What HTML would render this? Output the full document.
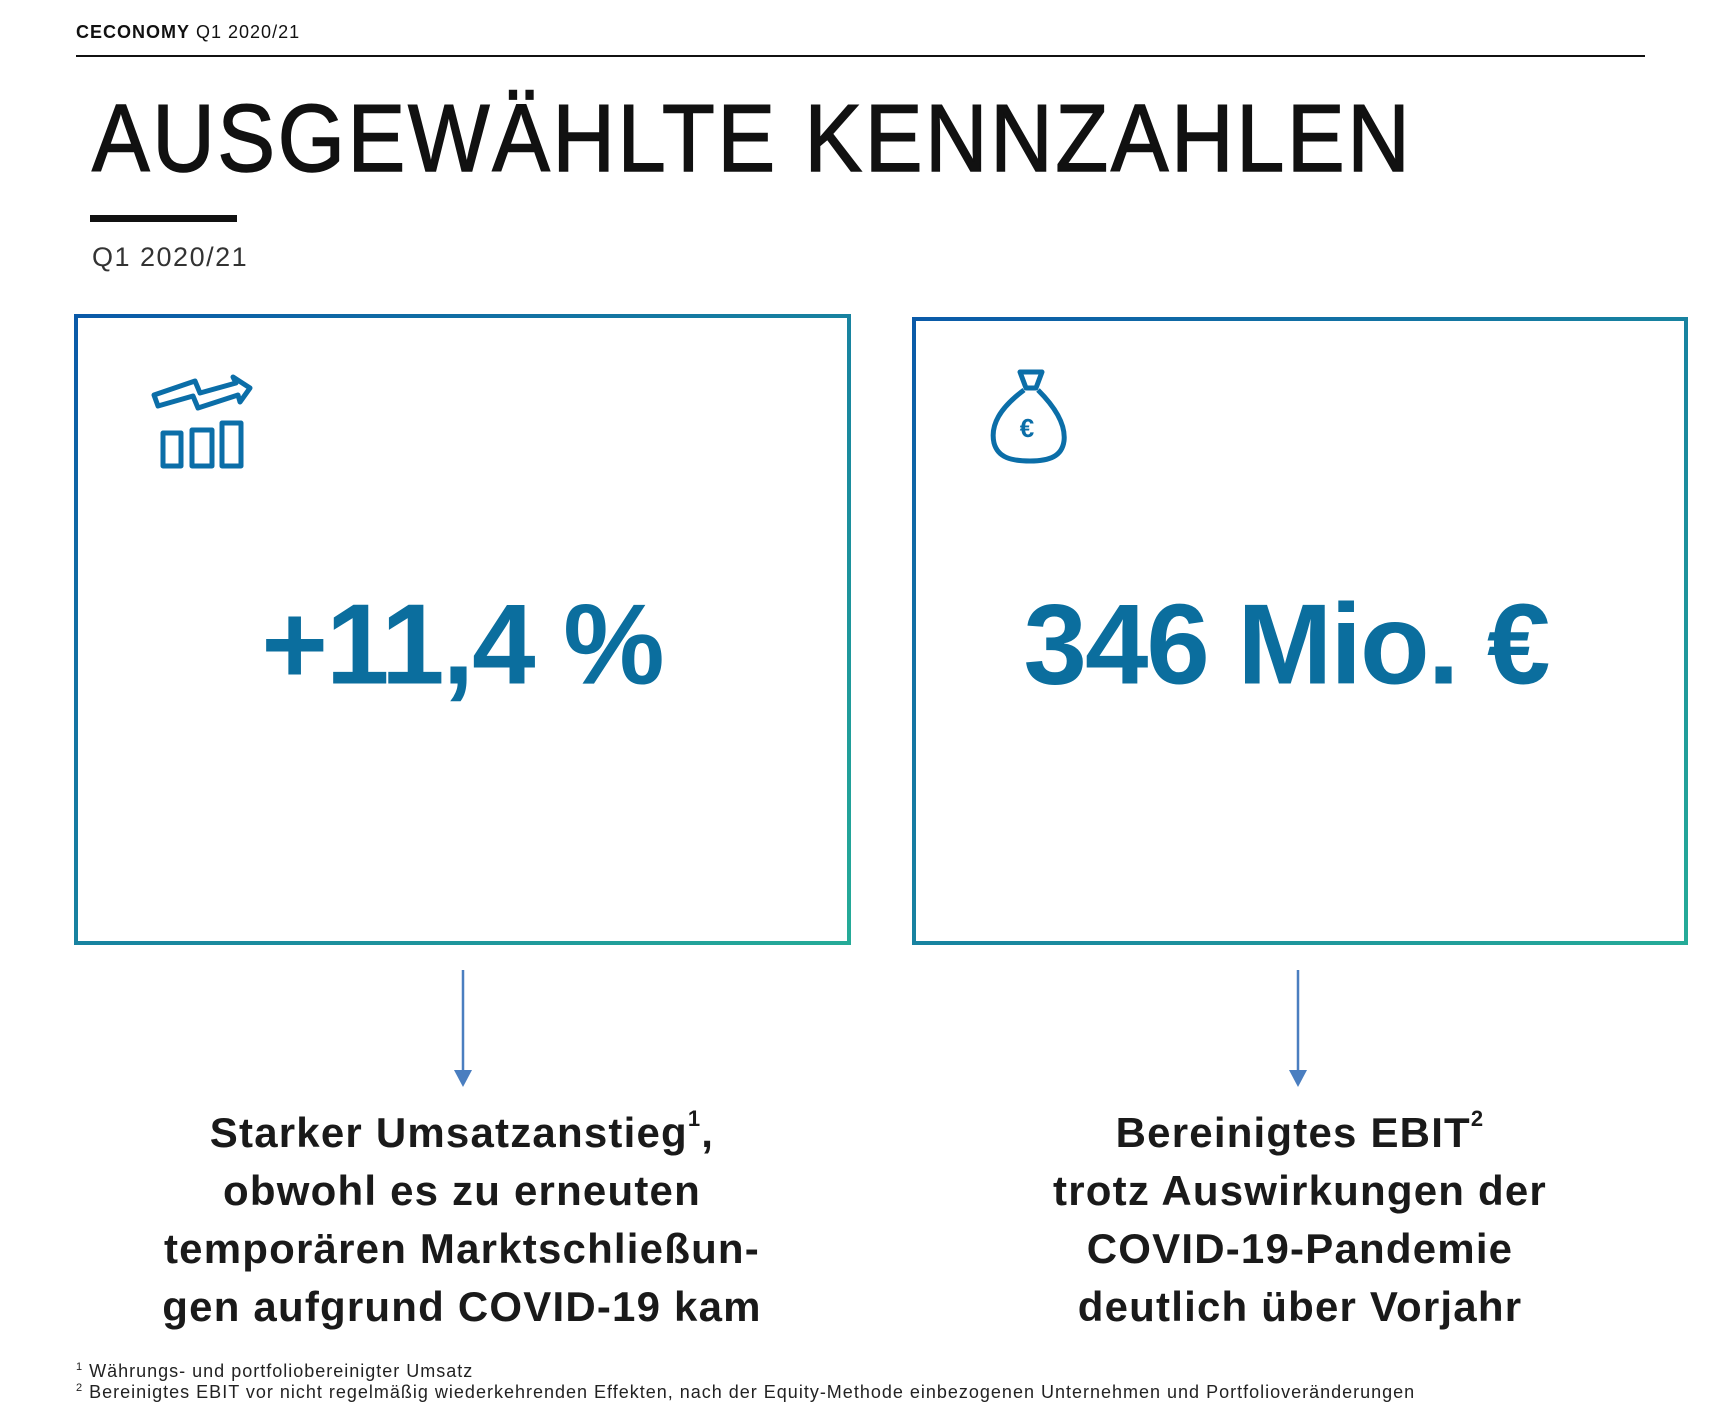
<!DOCTYPE html>
<html><head><meta charset="utf-8"><style>
body{margin:0;width:1736px;height:1428px;background:#fff;position:relative;overflow:hidden;font-family:"Liberation Sans",sans-serif;color:#111}
.a{position:absolute;white-space:nowrap}
.big{font-weight:bold;color:#0b6e9e;font-size:114px;transform:translate(-50%,-50%);letter-spacing:-2px}
.desc{font-weight:bold;font-size:42px;line-height:58px;text-align:center;transform:translateX(-50%);color:#1a1a1a;letter-spacing:1.2px}
.desc sup{font-size:22px;vertical-align:top;line-height:30px}
.fn{font-size:18px;letter-spacing:1px;color:#222}
</style></head><body>
<div class="a" style="left:76px;top:22px;font-size:18px;letter-spacing:1px"><b>CECONOMY</b> Q1 2020/21</div>
<div class="a" style="left:76px;top:55px;width:1569px;height:2px;background:#111"></div>
<div class="a" style="left:92px;top:84px;font-size:96px;letter-spacing:3px;transform:scaleX(0.9);transform-origin:left;-webkit-text-stroke:1.5px #111">AUSGEWÄHLTE KENNZAHLEN</div>
<div class="a" style="left:90px;top:215px;width:147px;height:7px;background:#111"></div>
<div class="a" style="left:92px;top:242px;font-size:27px;letter-spacing:1.5px;color:#333">Q1 2020/21</div>
<svg class="a" style="left:0;top:0" width="1736" height="1428">
<defs><linearGradient id="g" x1="0" y1="0" x2="1" y2="1"><stop offset="0" stop-color="#0a5aa8"/><stop offset="1" stop-color="#25ab98"/></linearGradient></defs>
<rect x="76" y="316" width="773" height="627" fill="none" stroke="url(#g)" stroke-width="4"/>
<rect x="914" y="319" width="772" height="624" fill="none" stroke="url(#g)" stroke-width="4"/>
<g fill="none" stroke="#0b6ea8" stroke-width="5" stroke-linejoin="round">
<path d="M154 395 L195 381 L200 393 L236 383 L233 377 L250 388 L240 402 L238 395 L198 408 L193 396 L158 406 Z"/>
<rect x="163" y="433" width="18" height="33"/><rect x="192" y="430" width="20" height="36"/><rect x="222" y="423" width="19" height="43"/>
<path d="M1020 372 L1042 372 L1036 388 L1026 388 Z"/>
<path d="M1024 390 C1000 408 990 425 994 443 C998 458 1012 461 1030 461 C1050 461 1062 456 1064 441 C1066 424 1054 406 1038 390"/>
</g>
<text x="1027" y="437" font-family="Liberation Sans" font-weight="bold" font-size="26" fill="#0b6ea8" text-anchor="middle">€</text>
<g stroke="#4a7ec0" stroke-width="2.5" fill="#4a7ec0">
<line x1="463" y1="970" x2="463" y2="1072"/><path d="M454 1070 L472 1070 L463 1087 Z" stroke="none"/>
<line x1="1298" y1="970" x2="1298" y2="1072"/><path d="M1289 1070 L1307 1070 L1298 1087 Z" stroke="none"/>
</g>
</svg>
<div class="a big" style="left:462px;top:645px">+11,4 %</div>
<div class="a big" style="left:1286px;top:645px">346 Mio. €</div>
<div class="a desc" style="left:462px;top:1104px">Starker Umsatzanstieg<sup>1</sup>,<br>obwohl es zu erneuten<br>temporären Marktschließun-<br>gen aufgrund COVID-19 kam</div>
<div class="a desc" style="left:1300px;top:1104px">Bereinigtes EBIT<sup>2</sup><br>trotz Auswirkungen der<br>COVID-19-Pandemie<br>deutlich über Vorjahr</div>
<div class="a fn" style="left:76px;top:1361px"><sup style="font-size:11px">1</sup> Währungs- und portfoliobereinigter Umsatz</div>
<div class="a fn" style="left:76px;top:1382px"><sup style="font-size:11px">2</sup> Bereinigtes EBIT vor nicht regelmäßig wiederkehrenden Effekten, nach der Equity-Methode einbezogenen Unternehmen und Portfolioveränderungen</div>
</body></html>
